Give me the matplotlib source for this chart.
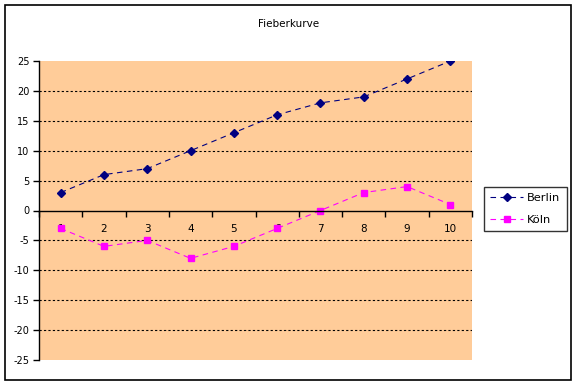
import matplotlib
matplotlib.use("Agg")
import matplotlib.pyplot as plt
from matplotlib.patches import Rectangle

categories = [1, 2, 3, 4, 5, 6, 7, 8, 9, 10]
berlin = [3, 6, 7, 10, 13, 16, 18, 19, 22, 25]
koeln = [-3, -6, -5, -8, -6, -3, 0, 3, 4, 1]
yticks = [-25, -20, -15, -10, -5, 0, 5, 10, 15, 20, 25]

plt.rcParams['font.family'] = ['DejaVu Sans']
W, H = 577, 385
fig = plt.figure(figsize=(W / 100, H / 100), dpi=100)
fig.patch.set_facecolor('white')
fig.patches.append(Rectangle((5 / W, 1 - 380 / H), 566 / W, 375 / H, transform=fig.transFigure,
                             fill=False, edgecolor='black', linewidth=1.2))

ax = fig.add_axes([39 / W, 1 - 360 / H, 433 / W, 299 / H])
ax.set_facecolor('#FFCC99')

x = list(range(len(categories)))
ax.plot(x, berlin, color='#000080', linestyle=(0, (5, 4)), linewidth=0.8,
        marker='D', markersize=4.5, label='Berlin')
ax.plot(x, koeln, color='#FF00FF', linestyle=(0, (5, 4)), linewidth=0.8,
        marker='s', markersize=5, label='Köln')

ax.set_xlim(-0.5, len(categories) - 0.5)
ax.set_ylim(-25, 25)
ax.set_yticks(yticks)
ax.set_yticklabels([str(v) for v in yticks], fontsize=7)
for v in yticks:
    if v not in (0, 25, -25):
        ax.axhline(v, color='black', linestyle=(0, (2, 2)), linewidth=0.8, zorder=1)

for s in ['top', 'right']:
    ax.spines[s].set_visible(False)
ax.spines['left'].set_linewidth(1)
ax.spines['bottom'].set_position(('data', 0))
ax.spines['bottom'].set_linewidth(1)

ax.set_xticks(x)
ax.set_xticklabels([str(c) for c in categories], fontsize=7.5)
ax.set_xticks([i - 0.5 for i in range(len(categories) + 1)], minor=True)
ax.tick_params(axis='x', which='major', length=0, pad=10)
ax.tick_params(axis='x', which='minor', length=4, direction='out', width=1)
ax.tick_params(axis='y', length=4, direction='out', width=1, pad=3)

fig.text(0.5, 1 - 24 / H, 'Fieberkurve', ha='center', va='center', fontsize=7.5)

leg = fig.legend(loc='upper left', bbox_to_anchor=(484 / W, 1 - 187 / H), fontsize=8.2,
                 frameon=True, fancybox=False, handlelength=2.9, borderpad=0.55,
                 labelspacing=1.05, handletextpad=0.35, borderaxespad=0)
leg.get_frame().set_edgecolor('black')
leg.get_frame().set_linewidth(1)

fig.savefig('out.png', dpi=100)
